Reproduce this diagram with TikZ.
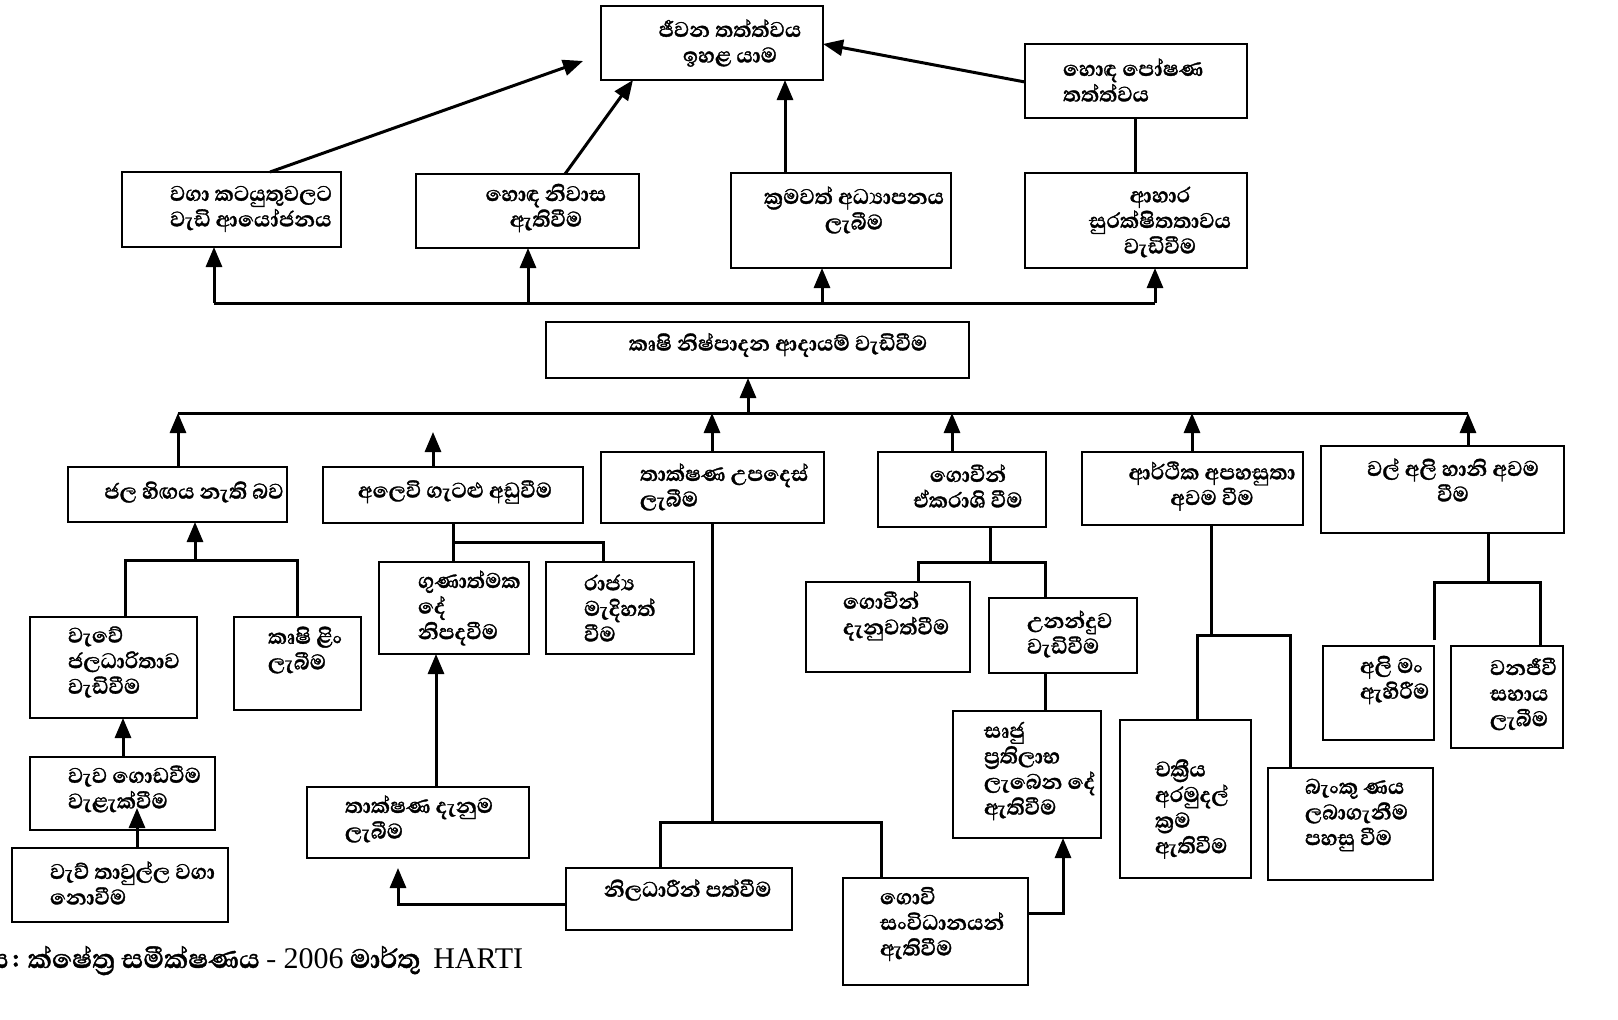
\documentclass[tikz,border=0pt]{standalone}
\usepackage{fontspec}
\setmainfont{Abhaya Libre}[Script=Sinhala, FakeBold=1.2]
\newfontfamily\latinserif{Liberation Serif}
\usetikzlibrary{arrows.meta}
\newcommand\mybox[5]{\node[boxst, minimum width={(#4-#2)*0.5pt}, minimum height={(#5-#3)*0.5pt}] (#1) at ({(#2+#4)/2},{(#3+#5)/2}) {};}
\begin{document}
\begin{tikzpicture}[x=0.5pt,y=-0.5pt,
  boxst/.style={draw, line width=1.3pt, inner sep=0pt, outer sep=0pt},
  txt/.style={inner sep=0pt, outer sep=0pt, font=\fontsize{13.5}{12.8}\selectfont\bfseries},
  txl/.style={txt, align=left, anchor=west},
  txc/.style={txt, align=center},
  lnk/.style={line width=1.5pt},
  arr/.style={line width=1.5pt, -{Triangle[length=10pt,width=8pt]}}]
\fill[white] (0,0) rectangle (1618,1019);
\useasboundingbox (0,0) rectangle (1618,1019);
% boxes
\mybox{T}{601}{6}{823}{80}
\mybox{NUT}{1025}{44}{1247}{118}
\mybox{B1}{122}{172}{341}{247}
\mybox{B2}{416}{174}{639}{248}
\mybox{B3}{731}{173}{951}{268}
\mybox{B4}{1025}{173}{1247}{268}
\mybox{K}{546}{322}{969}{378}
\mybox{L1}{68}{467}{287}{522}
\mybox{L2}{323}{467}{583}{523}
\mybox{L3}{601}{452}{824}{523}
\mybox{L4}{878}{452}{1046}{527}
\mybox{L5}{1082}{452}{1303}{525}
\mybox{L6}{1321}{446}{1564}{533}
\mybox{M1}{30}{617}{197}{718}
\mybox{M2}{234}{617}{361}{710}
\mybox{N1}{379}{562}{529}{654}
\mybox{N2}{546}{562}{694}{654}
\mybox{M3}{30}{757}{215}{830}
\mybox{M4}{12}{848}{228}{922}
\mybox{TK}{307}{787}{529}{858}
\mybox{NIL}{566}{868}{792}{930}
\mybox{GS}{843}{878}{1028}{985}
\mybox{GD}{806}{582}{970}{672}
\mybox{UN}{989}{598}{1137}{673}
\mybox{SJ}{953}{711}{1101}{838}
\mybox{CK}{1120}{720}{1251}{878}
\mybox{BK}{1268}{768}{1433}{880}
\mybox{AM}{1323}{646}{1434}{740}
\mybox{WJ}{1451}{646}{1563}{748}
% texts
\node[txc] (Tt) at (730,43) {ජීවන තත්ත්වය\\ඉහළ යාම};
\node[txl] (NUTt) at (1063,80) {හොඳ පෝෂණ\\තත්ත්වය};
\node[txl] (B1t) at (170,209) {වගා කටයුතුවලට\\වැඩි ආයෝජනය};
\node[txc] (B2t) at (546,208) {හොඳ නිවාස\\ඇතිවීම};
\node[txc] (B3t) at (854,210) {ක්‍රමවත් අධ්‍යාපනය\\ලැබීම};
\node[txc] (B4t) at (1160,222) {ආහාර\\සුරක්ෂිතතාවය\\වැඩිවීම};
\node[txc] (Kt) at (778,345) {කෘෂි නිෂ්පාදන ආදායම් වැඩිවීම};
\node[txc] (L1t) at (194,492) {ජල හිඟය නැති බව};
\node[txc] (L2t) at (455,492) {අලෙවි ගැටළු අඩුවීම};
\node[txl] (L3t) at (640,487) {තාක්ෂණ උපදෙස්\\ලැබීම};
\node[txc] (L4t) at (968,486) {ගොවීන්\\ඒකරාශි වීම};
\node[txc] (L5t) at (1212,486) {ආර්ථික අපහසුතා\\අවම වීම};
\node[txc] (L6t) at (1453,480) {වල් අලි හානි අවම\\වීම};
\node[txl] (M1t) at (68,662) {වැවේ\\ජලධාරිතාව\\වැඩිවීම};
\node[txl] (M2t) at (268,650) {කෘෂි ළිං\\ලැබීම};
\node[txl] (N1t) at (418,608) {ගුණාත්මක\\දේ\\නිපදවීම};
\node[txl] (N2t) at (584,608) {රාජ්‍ය\\මැදිහත්\\වීම};
\node[txl] (M3t) at (68,789) {වැව ගොඩවීම\\වැළැක්වීම};
\node[txl] (M4t) at (50,883) {වැව් තාවුල්ල වගා\\නොවීම};
\node[txl] (TKt) at (345,819) {තාක්ෂණ දැනුම\\ලැබීම};
\node[txl] (NILt) at (604,890) {නිලධාරීන් පත්වීම};
\node[txl] (GSt) at (880,924) {ගොවි\\සංවිධානයන්\\ඇතිවීම};
\node[txl] (GDt) at (843,616) {ගොවීන්\\දැනුවත්වීම};
\node[txl] (UNt) at (1027,634) {උනන්දුව\\වැඩිවීම};
\node[txl] (SJt) at (984,771) {සෘජු\\ප්‍රතිලාභ\\ලැබෙන දේ\\ඇතිවීම};
\node[txl] (CKt) at (1155,809) {චක්‍රීය\\අරමුදල්\\ක්‍රම\\ඇතිවීම};
\node[txl] (BKt) at (1305,815) {බැංකු ණය\\ලබාගැනීම\\පහසු වීම};
\node[txl] (AMt) at (1360,680) {අලි මං\\ඇහිරීම};
\node[txl] (WJt) at (1490,694) {වනජීවී\\සහාය\\ලැබීම};
% caption
\node[inner sep=0pt, anchor=base east, font=\fontsize{17}{18}\selectfont\bfseries] (cap1) at (9,968) {මූලාශ්‍රය};
\node[inner sep=0pt, anchor=base west, font=\fontsize{17}{18}\selectfont\bfseries] (cap2) at (12,968) {: ක්ෂේත්‍ර සමීක්ෂණය - {\latinserif\mdseries\fontsize{15}{16}\selectfont 2006} මාර්තු \ {\latinserif\mdseries\fontsize{15}{16}\selectfont HARTI}};
% top connectors
\coordinate (tipB1) at (583,61);
\draw[arr] (270,0 |- B1.north) -- (tipB1);
\draw[arr] (565,0 |- B2.north) -- (633,0 |- T.south);
\draw[arr] (785,0 |- B3.north) -- (785,0 |- T.south);
\draw[arr] (NUT.west |- 0,82) -- (T.east |- 0,44);
\draw[lnk] (1135,0 |- NUT.south) -- (1135,0 |- B4.north);
% bus 1
\coordinate (busA) at (214,303);
\coordinate (busB) at (1155,303);
\draw[lnk] (busA) -- (busB);
\draw[arr] (busA) -- (214,0 |- B1.south);
\draw[arr] (528,303) -- (528,0 |- B2.south);
\draw[arr] (822,303) -- (822,0 |- B3.south);
\draw[arr] (busB) -- (1155,0 |- B4.south);
% bus 2
\coordinate (busC) at (178,413);
\coordinate (busD) at (1468,413);
\draw[lnk] (busC) -- (busD);
\draw[arr] (748,413) -- (748,0 |- K.south);
\draw[arr] (178,0 |- L1.north) -- (busC);
\draw[arr] (433,0 |- L2.north) -- (433,432);
\draw[arr] (712,0 |- L3.north) -- (712,413);
\draw[arr] (952,0 |- L4.north) -- (952,413);
\draw[arr] (1192,0 |- L5.north) -- (1192,413);
\draw[arr] (1468,0 |- L6.north) -- (busD);
% L1 group
\draw[arr] (195,560) -- (195,0 |- L1.south);
\draw[lnk] (125,0 |- M1.north) -- (125,560) -- (297,560) -- (297,0 |- M2.north);
\draw[arr] (123,0 |- M3.north) -- (123,0 |- M1.south);
\draw[arr] (137,0 |- M4.north) -- (137,808);
% L2 group
\draw[lnk] (453,0 |- L2.south) -- (453,0 |- N1.north);
\draw[lnk] (453,542) -- (603,542) -- (603,0 |- N2.north);
\draw[arr] (436,0 |- TK.north) -- (436,0 |- N1.south);
% L3 group
\draw[lnk] (712,0 |- L3.south) -- (712,822);
\draw[lnk] (660,0 |- NIL.north) -- (660,822) -- (881,822) -- (881,0 |- GS.north);
\draw[arr] (NIL.west |- 0,904) -| (398,868);
\draw[arr] (GS.east |- 0,913) -| (1063,0 |- SJ.south);
% L4 group
\draw[lnk] (990,0 |- L4.south) -- (990,562);
\draw[lnk] (918,0 |- GD.north) -- (918,562) -- (1045,562) -- (1045,0 |- UN.north);
\draw[lnk] (1045,0 |- UN.south) -- (1045,0 |- SJ.north);
% L5 group
\draw[lnk] (1211,0 |- L5.south) -- (1211,635);
\draw[lnk] (1197,0 |- CK.north) -- (1197,635) -- (1290,635) -- (1290,0 |- BK.north);
% L6 group
\draw[lnk] (1488,0 |- L6.south) -- (1488,582);
\draw[lnk] (1434,640) -- (1434,582) -- (1540,582) -- (1540,0 |- WJ.north);
\end{tikzpicture}
\end{document}
